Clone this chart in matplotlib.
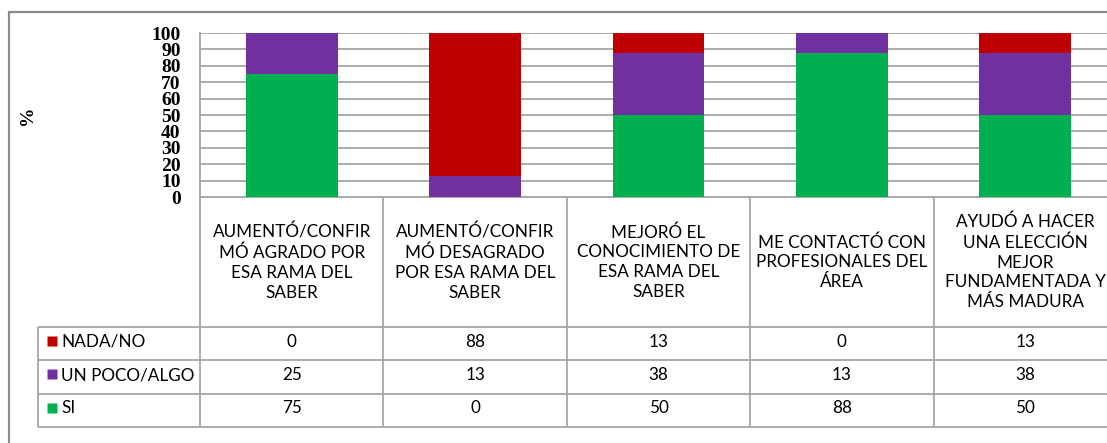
import matplotlib
matplotlib.use("Agg")
import matplotlib.pyplot as plt
import numpy as np

categories = [
    "AUMENTÓ/CONFIR\nMÓ AGRADO POR\nESA RAMA DEL\nSABER",
    "AUMENTÓ/CONFIR\nMÓ DESAGRADO\nPOR ESA RAMA DEL\nSABER",
    "MEJORÓ EL\nCONOCIMIENTO DE\nESA RAMA DEL\nSABER",
    "ME CONTACTÓ CON\nPROFESIONALES DEL\nÁREA",
    "AYUDÓ A HACER\nUNA ELECCIÓN\nMEJOR\nFUNDAMENTADA Y\nMÁS MADURA",
]
series_names = ["NADA/NO", "UN POCO/ALGO", "SI"]
nada = [0, 88, 13, 0, 13]
poco = [25, 13, 38, 13, 38]
si = [75, 0, 50, 88, 50]
yticks = list(range(0, 101, 10))

GREEN = "#00B050"
PURPLE = "#7030A0"
RED = "#C00000"
GRID = "#A6A6A6"

W, H = 1107, 443
fig = plt.figure(figsize=(W / 100, H / 100), dpi=100)
fig.patch.set_facecolor("white")

CW = 183.4  # category column width in px
x_left, y_top0, y_bot0 = 200, 33, 197
n = len(categories)

# outer chart frame (extends beyond the image on right/bottom)
frame = plt.Rectangle((9 / W, -0.1), 1.2, 1 - 12 / H + 0.1, transform=fig.transFigure,
                      fill=False, edgecolor="#8C8C8C", lw=1.6, zorder=0)
fig.add_artist(frame)

ax = fig.add_axes([x_left / W, 1 - y_bot0 / H, n * CW / W, (y_bot0 - y_top0) / H])
x = np.arange(n)
ax.bar(x, si, width=0.5, color=GREEN, zorder=3)
ax.bar(x, poco, width=0.5, bottom=si, color=PURPLE, zorder=3)
bot2 = [a + b for a, b in zip(si, poco)]
ax.bar(x, nada, width=0.5, bottom=bot2, color=RED, zorder=3)
ax.set_xlim(-0.5, n - 0.5)
ax.set_ylim(0, 100)
ax.set_yticks(yticks)
ax.set_yticklabels([str(t) for t in yticks], fontfamily="Liberation Serif",
                   fontweight="bold", fontsize=14)
ax.set_xticks([])
ax.tick_params(axis="y", length=0, pad=14)
ax.yaxis.grid(True, color=GRID, lw=1.3, zorder=0)
ax.set_axisbelow(True)
for s in ["top", "right"]:
    ax.spines[s].set_visible(False)
for s in ["left", "bottom"]:
    ax.spines[s].set_color(GRID)
    ax.spines[s].set_linewidth(1.3)
ax.patch.set_alpha(0)

fig.text(28 / W, 1 - 115 / H, "%", rotation=90, fontweight="bold", fontsize=14,
         fontfamily="Liberation Serif", ha="center", va="center")

# data table
leg_px = x_left - 38
LEG = leg_px / CW
row_h = 1.0
header_h = 130 / 33.3
tab_top_px, tab_bot_px = 197, 427
tax = fig.add_axes([38 / W, 1 - tab_bot_px / H, (n * CW + leg_px) / W,
                    (tab_bot_px - tab_top_px) / H])
tax.set_xlim(-0.5 - LEG, n - 0.5)
tax.set_ylim(0, 3 * row_h + header_h)
tax.axis("off")
tfont = dict(fontfamily="Lato", fontsize=12.3, color="black")
line_kw = dict(color=GRID, lw=1.3, solid_capstyle="butt", clip_on=False)
for k in range(4):
    tax.plot([-0.5 - LEG, n - 0.5], [k * row_h, k * row_h], **line_kw)
tax.plot([-0.5 - LEG, -0.5 - LEG], [0, 3 * row_h], **line_kw)
for i in range(n + 1):
    tax.plot([i - 0.5, i - 0.5], [0, 3 * row_h + header_h], **line_kw)

for i, c in enumerate(categories):
    tax.text(i, 3 * row_h + header_h / 2, c, ha="center", va="center",
             linespacing=1.29, **tfont)

sq_x = -0.5 - LEG + 14 / CW
tx_x = -0.5 - LEG + 23 / CW
rows = [(series_names[0], nada, RED), (series_names[1], poco, PURPLE), (series_names[2], si, GREEN)]
for r, (name, vals, col) in enumerate(rows):
    yc = 3 * row_h - (r + 0.5) * row_h
    tax.plot([sq_x], [yc + 0.08], marker="s", ms=7.4, color=col,
             mec="none", clip_on=False)
    tax.text(tx_x, yc + 0.06, name, ha="left", va="center", **tfont)
    for i, v in enumerate(vals):
        tax.text(i, yc + 0.06, str(v), ha="center", va="center", **tfont)

fig.savefig("out.png", dpi=100)
